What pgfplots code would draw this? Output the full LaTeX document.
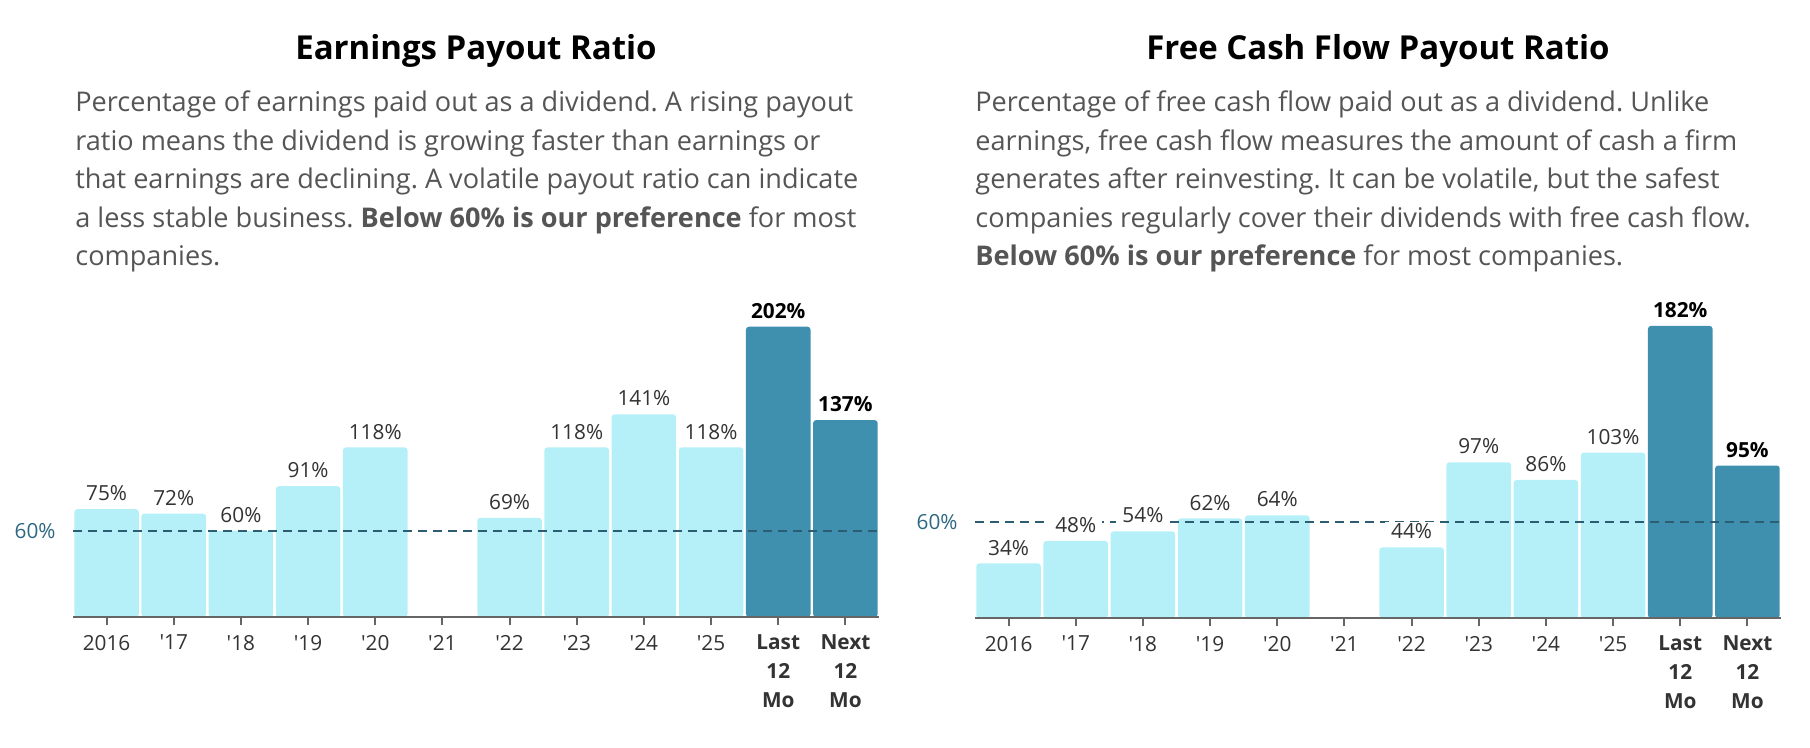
\documentclass[border=0pt]{standalone}
\usepackage{pgfplots}
\usepackage{pgfplotstable}
\pgfplotsset{compat=1.18}
\usepackage{fontspec}
\setmainfont{Open Sans}[Ligatures=TeXOff]
\frenchspacing
\definecolor{lightbar}{HTML}{B5F0F8}
\definecolor{darkbar}{HTML}{3F8FAF}
\definecolor{dashcol}{HTML}{2C5D72}
\definecolor{refcol}{HTML}{2E6882}
\definecolor{axisgray}{HTML}{666666}
\definecolor{txtgray}{HTML}{555555}
\definecolor{lblgray}{HTML}{333333}
\newcommand{\desc}{\fontsize{13.55}{19}\selectfont\color{txtgray}}
\newcommand{\ttl}{\fontsize{16.5}{19}\selectfont\bfseries}
\newcommand{\lbl}{\fontsize{10.4}{14.5}\selectfont}

% Earnings payout ratio
\pgfplotstableread{
x y
0 75
1 72
2 60
3 91
4 118
6 69
7 118
8 141
9 118
}\epsLight
\pgfplotstableread{
x y
10 202
11 137
}\epsDark
% Free cash flow payout ratio
\pgfplotstableread{
x y
0 34
1 48
2 54
3 62
4 64
6 44
7 97
8 86
9 103
}\fcfLight
\pgfplotstableread{
x y
10 182
11 95
}\fcfDark

\pgfplotsset{
  payout/.style={
    anchor=south west, xmin=-0.5, xmax=11.5, ymin=0, clip=false,
    x=33.583pt, axis on top,
    axis x line*=bottom, axis y line=none,
    x axis line style={color=axisgray, line width=1pt, -},
    xtick={0,...,11},
    xticklabels={2016,'17,'18,'19,'20,'21,'22,'23,'24,'25,{\bfseries Last\\\bfseries 12\\\bfseries Mo},{\bfseries Next\\\bfseries 12\\\bfseries Mo}},
    tick align=outside, major tick length=4.25pt,
    xtick style={color=axisgray, line width=1pt},
    xticklabel style={align=center, font=\lbl, text=lblgray, inner sep=0pt, anchor=north, yshift=-4.6pt},
    /pgf/number format/assume math mode=true,
  },
  bars/.style={ybar, bar shift=0pt, bar width=32.3pt, draw=none, rounded corners=1.5pt},
  refline/.style={sharp plot, dashcol, line width=1pt, dash pattern=on 4.5pt off 3pt},
  labels/.style={sharp plot, draw=none, mark=none,
    nodes near coords={\pgfmathprintnumber{\pgfplotspointmeta}\%},
    every node near coord/.append style={font=\lbl, text=lblgray, fill=white, anchor=base, inner xsep=3pt, inner ysep=1pt, yshift=4.2pt}},
  boldlabels/.style={labels,
    every node near coord/.append style={font=\lbl\bfseries, text=black}},
}
\begin{document}
\begin{tikzpicture}
\path[use as bounding box] (0,0) rectangle (905pt,374pt);
% titles
\node[anchor=base, inner sep=0pt] at (238pt,344.35pt) {\ttl Earnings Payout Ratio};
\node[anchor=base, inner sep=0pt] at (689pt,344.35pt) {\ttl Free Cash Flow Payout Ratio};
% descriptions
\begin{scope}[every node/.style={anchor=base west, inner sep=0pt}]
\node at (37.5pt,318pt) {\desc Percentage of earnings paid out as a dividend. A rising payout};
\node at (37.5pt,298.8pt) {\desc ratio means the dividend is growing faster than earnings or};
\node at (37.5pt,279.6pt) {\desc that earnings are declining. A volatile payout ratio can indicate};
\node at (37.5pt,260.4pt) {\desc a less stable business. \textbf{Below 60\% is our preference} for most};
\node at (37.5pt,241.2pt) {\desc companies.};
\node at (487.5pt,318pt) {\desc Percentage of free cash flow paid out as a dividend. Unlike};
\node at (487.5pt,298.8pt) {\desc earnings, free cash flow measures the amount of cash a firm};
\node at (487.5pt,279.6pt) {\desc generates after reinvesting. It can be volatile, but the safest};
\node at (487.5pt,260.4pt) {\desc companies regularly cover their dividends with free cash flow.};
\node at (487.5pt,241.2pt) {\desc \textbf{Below 60\% is our preference} for most companies.};
\end{scope}

\begin{axis}[payout, at={(36.5pt,65.5pt)}, y=0.7185pt, ymax=215]
\addplot[bars, fill=lightbar] table[x=x, y=y] {\epsLight};
\addplot[bars, fill=darkbar] table[x=x, y=y] {\epsDark};
\addplot[refline] coordinates {(-0.5,60) (11.5,60)};
\addplot[labels] table[x=x, y=y] {\epsLight};
\addplot[boldlabels] table[x=x, y=y] {\epsDark};
\node[anchor=east, inner sep=0pt, text=refcol, font=\lbl] at (axis cs:-0.5,60) [xshift=-8.5pt] {60\%};
\end{axis}

\begin{axis}[payout, at={(487.5pt,65pt)}, y=0.8025pt, ymax=195]
\addplot[bars, fill=lightbar] table[x=x, y=y] {\fcfLight};
\addplot[bars, fill=darkbar] table[x=x, y=y] {\fcfDark};
\addplot[refline] coordinates {(-0.5,60) (11.5,60)};
\addplot[labels] table[x=x, y=y] {\fcfLight};
\addplot[boldlabels] table[x=x, y=y] {\fcfDark};
\node[anchor=east, inner sep=0pt, text=refcol, font=\lbl] at (axis cs:-0.5,60) [xshift=-8.5pt] {60\%};
\end{axis}
\end{tikzpicture}
\end{document}
